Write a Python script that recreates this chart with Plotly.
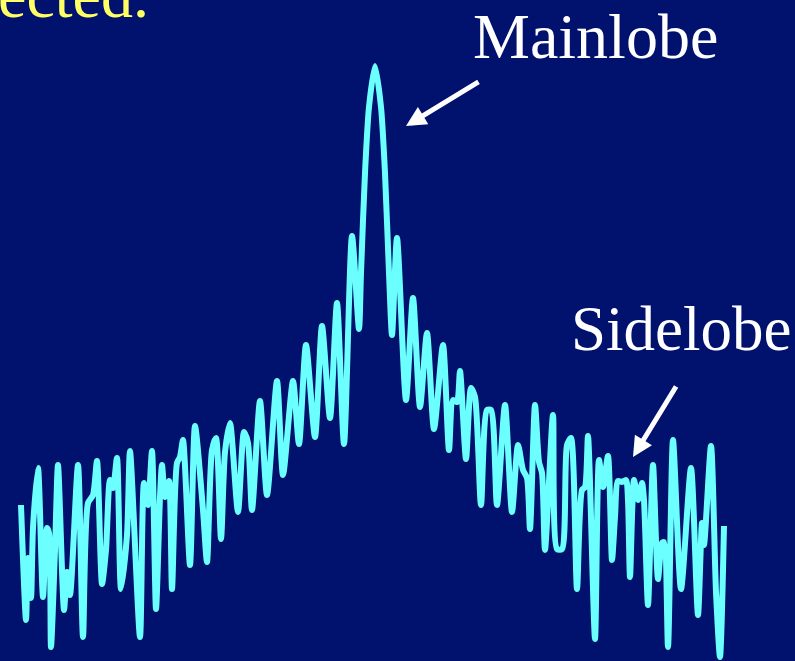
import plotly.graph_objects as go

# Frequency offset (bins from main-lobe centre) and magnitude (dB)
freq_bins = [
    -354, -349, -347, -344, -342, -337, -332, -328, -326, -324, -320, -317,
    -311, -308, -305, -297, -292, -287, -282, -278, -273, -269, -265, -262,
    -258, -254, -248, -245, -235, -231, -227, -223, -219, -215, -213, -210,
    -206, -203, -198, -195, -192, -185, -180, -172, -168, -163, -159, -154,
    -150, -145, -137, -131, -127, -123, -115, -108, -98, -92, -82, -76,
    -69, -60, -53, -45, -38, -31, -23, -16, -14, -10, -6, 0,
    6, 10, 14, 17, 22, 31, 38, 45, 52, 59, 68, 74,
    78, 82, 85, 91, 96, 100, 106, 112, 116, 122, 130, 137,
    143, 148, 152, 155, 160, 164, 167, 170, 178, 182, 187, 192,
    196, 202, 207, 210, 213, 220, 224, 228, 233, 237, 240, 243,
    247, 251, 253, 255, 259, 263, 267, 269, 273, 278, 283, 287,
    289, 293, 298, 306, 316, 323, 327, 329, 336, 341, 345, 349,
]
magnitude_db = [
    -43.9, -55.4, -49.2, -53.2, -46.2, -40.2, -53.1, -46.2, -46.7, -58.1, -48.4, -39.9,
    -54.4, -50.6, -52.9, -39.9, -57.1, -43.7, -42.9, -39.5, -51.8, -48.4, -41.4, -42.2,
    -39.2, -52.3, -46.9, -38.5, -57.1, -41.7, -43.9, -38.5, -54.3, -43.1, -39.9, -43.1,
    -41.5, -52.3, -39.7, -39.1, -37.4, -49.9, -36.0, -44.4, -49.6, -38.4, -37.2, -47.3,
    -38.6, -35.7, -44.6, -36.6, -37.7, -44.4, -33.5, -42.9, -31.5, -40.9, -31.5, -37.8,
    -27.9, -37.1, -26.0, -35.2, -23.7, -37.8, -17.0, -26.3, -20.7, -10.7, -4.1, 0.0,
    -4.1, -10.7, -20.7, -26.9, -17.2, -33.4, -23.2, -34.1, -26.7, -36.3, -27.9, -38.4,
    -33.4, -33.6, -30.5, -39.3, -32.2, -33.1, -43.9, -34.4, -34.4, -43.9, -33.9, -44.6,
    -37.9, -40.4, -41.2, -46.3, -33.9, -39.6, -40.7, -48.4, -34.9, -48.3, -48.3, -37.9,
    -37.2, -52.3, -42.4, -42.1, -37.0, -57.3, -39.4, -42.1, -39.0, -49.4, -45.1, -41.5,
    -41.6, -41.4, -43.4, -51.1, -41.4, -43.4, -41.7, -43.4, -53.9, -39.9, -51.3, -47.7,
    -47.6, -58.1, -37.4, -52.3, -40.2, -54.9, -45.7, -47.9, -38.0, -52.6, -59.1, -46.0,
]

labels = ["Mainlobe", "Sidelobe"]
caption = "ected."

BG = "#00116E"
LINE = "#6CFFFF"

fig = go.Figure()
fig.add_trace(go.Scatter(
    x=freq_bins, y=magnitude_db, mode="lines",
    line=dict(color=LINE, width=6, shape="spline", smoothing=0.7),
    hoverinfo="skip", showlegend=False,
))

serif = "Liberation Serif, Times New Roman, serif"

fig.add_annotation(x=220, y=-0.8, text=labels[0], showarrow=False,
                   xanchor="center", yanchor="bottom",
                   font=dict(family=serif, size=64, color="white"))
fig.add_annotation(x=306, y=-30.0, text=labels[1], showarrow=False,
                   xanchor="center", yanchor="bottom",
                   font=dict(family=serif, size=63, color="white"))
fig.add_annotation(x=-224, y=3.3, text=caption, showarrow=False,
                   xanchor="right", yanchor="bottom",
                   font=dict(family=serif, size=64, color="#FFFF66"))

# arrows
fig.add_annotation(x=31, y=-6.0, ax=105, ay=-1.5, axref="x", ayref="y",
                   xref="x", yref="y", text="", showarrow=True,
                   arrowhead=2, arrowsize=0.8, arrowwidth=5, arrowcolor="white")
fig.add_annotation(x=258, y=-39.1, ax=302, ay=-31.9, axref="x", ayref="y",
                   xref="x", yref="y", text="", showarrow=True,
                   arrowhead=2, arrowsize=0.8, arrowwidth=5, arrowcolor="white")

fig.update_layout(
    width=795, height=661,
    margin=dict(l=0, r=0, t=0, b=0),
    paper_bgcolor=BG, plot_bgcolor=BG,
    xaxis=dict(range=[-375, 420], visible=False, fixedrange=True),
    yaxis=dict(range=[-59.5, 6.6], visible=False, fixedrange=True),
)

fig.write_html(
    "out.html",
    config={"displayModeBar": False},
    post_script="document.body.style.margin='0';document.body.style.background='%s';" % BG,
)
